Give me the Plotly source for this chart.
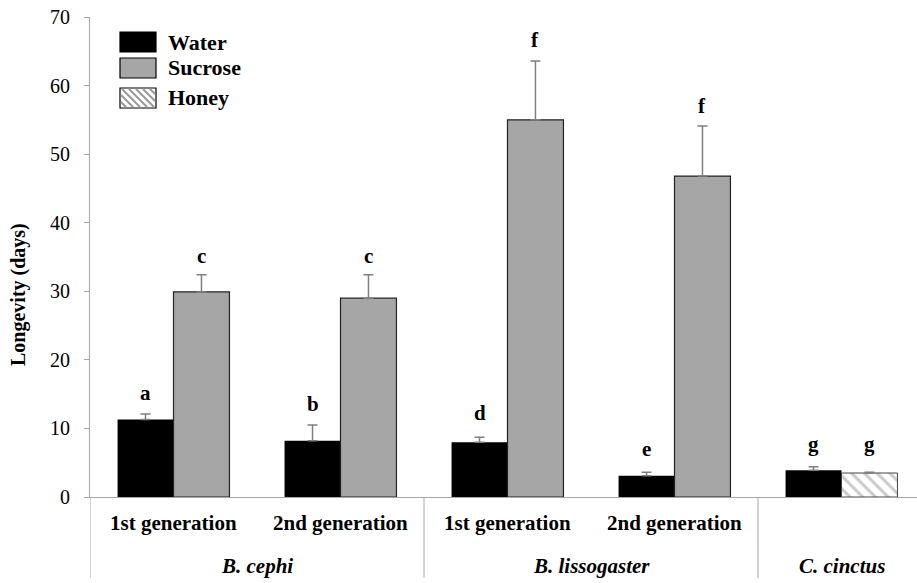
import plotly.graph_objects as go

# ---- data ----
categories = ["1st generation", "2nd generation", "1st generation", "2nd generation", ""]
groups = ["B. cephi", "B. lissogaster", "C. cinctus"]
water = [11.3, 8.2, 8.0, 3.1, 3.9]
water_err = [0.8, 2.3, 0.7, 0.5, 0.5]
sucrose = [29.9, 29.0, 55.0, 46.8]
sucrose_err = [2.5, 3.4, 8.6, 7.3]
honey = [3.5]
honey_err = [0.1]
water_letters = ["a", "b", "d", "e", "g"]
sucrose_letters = ["c", "c", "f", "f"]
honey_letters = ["g"]
water_letter_y = [15.2, 13.6, 12.2, 7.0, 7.8]
sucrose_letter_y = [35.2, 35.2, 66.7, 57.0]
honey_letter_y = [7.8]
y_title = "Longevity (days)"

FONT = "Liberation Serif"
GRAY_AX = "#a6a6a6"
W = 0.335

x_all = list(range(len(categories)))
x_suc = x_all[:len(sucrose)]
x_hon = [4]

fig = go.Figure()
fig.add_trace(go.Bar(
    x=x_all, y=water, width=W, offset=-W, marker=dict(color="black", line=dict(width=0)),
    error_y=dict(type="data", array=water_err, arrayminus=[0]*len(water_err), symmetric=False,
                 color="#7f7f7f", thickness=1.5, width=5),
    showlegend=False, name="Water"))
fig.add_trace(go.Bar(
    x=x_suc, y=sucrose, width=W, offset=0,
    marker=dict(color="#a6a6a6", line=dict(color="#222222", width=1.2)),
    error_y=dict(type="data", array=sucrose_err, arrayminus=[0]*len(sucrose_err), symmetric=False,
                 color="#7f7f7f", thickness=1.5, width=5),
    showlegend=False, name="Sucrose"))
fig.add_trace(go.Bar(
    x=x_hon, y=honey, width=W, offset=0,
    marker=dict(color="white", line=dict(color="#444444", width=1),
                pattern=dict(shape="\\", fgcolor="#999999", bgcolor="white", size=9, solidity=0.35)),
    error_y=dict(type="data", array=honey_err, arrayminus=[0], symmetric=False,
                 color="#7f7f7f", thickness=1.5, width=5),
    showlegend=False, name="Honey"))

ann = []
lf = dict(family=FONT, size=21, color="black")
for xi, (t, yy) in enumerate(zip(water_letters, water_letter_y)):
    ann.append(dict(x=xi - W/2, y=yy, xref="x", yref="y", text=f"<b>{t}</b>", showarrow=False, font=lf,
                    xanchor="center", yanchor="middle"))
for xi, (t, yy) in enumerate(zip(sucrose_letters, sucrose_letter_y)):
    ann.append(dict(x=xi + W/2, y=yy, xref="x", yref="y", text=f"<b>{t}</b>", showarrow=False, font=lf,
                    xanchor="center", yanchor="middle"))
for xi, t, yy in zip(x_hon, honey_letters, honey_letter_y):
    ann.append(dict(x=xi + W/2, y=yy, xref="x", yref="y", text=f"<b>{t}</b>", showarrow=False, font=lf,
                    xanchor="center", yanchor="middle"))

# plot area in window pixels
L, R, T, B = 90, 917, 17, 497
def py(p):
    return (B - p) / (B - T)
def px(p):
    return (p - L) / (R - L)

cf = dict(family=FONT, size=21, color="black")
for xi, c in enumerate(categories):
    if c:
        ann.append(dict(x=xi, y=py(523), xref="x", yref="paper", text=f"<b>{c}</b>", showarrow=False, font=cf,
                        xanchor="center", yanchor="middle"))
for xc, g in zip([0.5, 2.5, 4], groups):
    ann.append(dict(x=xc, y=py(566), xref="x", yref="paper", text=f"<b><i>{g}</i></b>", showarrow=False, font=cf,
                    xanchor="center", yanchor="middle"))

# y-axis title
ann.append(dict(x=px(18), y=py(295), xref="paper", yref="paper", text=f"<b>{y_title}</b>", textangle=-90,
                showarrow=False, font=dict(family=FONT, size=20, color="black"),
                xanchor="center", yanchor="middle"))

shapes = []
for xs in [-0.5, 1.5, 3.5]:
    shapes.append(dict(type="line", xref="x", yref="paper", x0=xs, x1=xs, y0=0, y1=py(578),
                       line=dict(color=GRAY_AX, width=1)))

# custom legend
leg_names = ["Water", "Sucrose", "Honey"]
leg_fill = ["black", "#a6a6a6", "white"]
leg_tops = [32, 58, 88]
for name, fill, top in zip(leg_names, leg_fill, leg_tops):
    shapes.append(dict(type="rect", xref="paper", yref="paper", x0=px(120), x1=px(156),
                       y0=py(top + 20), y1=py(top), fillcolor=fill, line=dict(color="black", width=1.2)))
    ann.append(dict(x=px(166), y=py(top + 10), xref="paper", yref="paper", xanchor="left", yanchor="middle",
                    text=f"<b>{name}</b>", showarrow=False, font=dict(family=FONT, size=22, color="black")))
# hatch lines for honey swatch
x0, x1, y0, y1 = 121, 155, 89, 107
for k in range(-20, 40, 7):
    sx, sy = x0 + k, y0
    ex, ey = sx + (y1 - y0), y1
    if sx < x0:
        sy = y0 + (x0 - sx); sx = x0
    if ex > x1:
        ey = y1 - (ex - x1); ex = x1
    if sx >= ex or sy >= ey:
        continue
    shapes.append(dict(type="line", xref="paper", yref="paper", x0=px(sx), x1=px(ex), y0=py(sy), y1=py(ey),
                       line=dict(color="#999999", width=2)))

FW, FH = 917, 583
fig.update_layout(
    width=FW, height=FH,
    margin=dict(l=L, r=FW - R, t=T, b=FH - B),
    paper_bgcolor="white", plot_bgcolor="white",
    barmode="overlay",
    annotations=ann, shapes=shapes,
    font=dict(family=FONT, color="black"),
    xaxis=dict(range=[-0.5, -0.5 + (R - L) / 167.0], showticklabels=False, showgrid=False, zeroline=False,
               showline=True, linecolor=GRAY_AX, linewidth=1, ticks=""),
    yaxis=dict(range=[0, 70], dtick=10, showgrid=False, zeroline=False, showline=True, linecolor=GRAY_AX,
               linewidth=1, ticks="outside", ticklen=5, tickcolor=GRAY_AX, ticklabelstandoff=10,
               tickfont=dict(family=FONT, size=20, color="black")),
)

fig.write_html("out.html", config={"displayModeBar": False},
               post_script="document.body.style.margin='0';")
